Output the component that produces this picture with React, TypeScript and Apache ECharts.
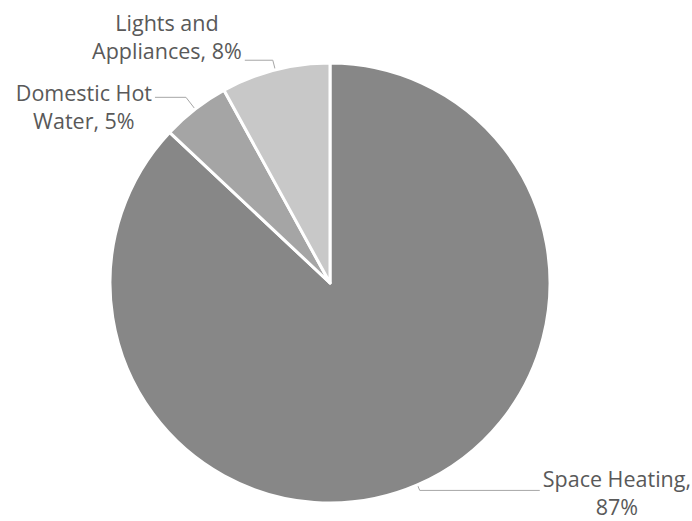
import React, { useEffect, useRef } from "react";
import * as echarts from "echarts";

const categories = ["Space Heating", "Domestic Hot Water", "Lights and Appliances"];
const values = [87, 5, 8];
const colors = ["#878787", "#a5a5a5", "#c8c8c8"];

// label styling per slice (leader-line lengths and vertical offsets)
const lineLen = [6, 15, 10];
const lineLen2 = [120, 31, 28];
const labelDy = [2, 9, -24];

export default function App() {
  const ref = useRef<HTMLDivElement>(null);
  useEffect(() => {
    if (!ref.current) return;
    const chart = echarts.init(ref.current, undefined, { renderer: "svg" });
    chart.setOption({
      animation: false,
      backgroundColor: "#ffffff",
      series: [
        {
          type: "pie",
          center: [330, 283],
          radius: 220,
          startAngle: 90,
          clockwise: true,
          avoidLabelOverlap: false,
          itemStyle: { borderColor: "#ffffff", borderWidth: 3 },
          label: {
            show: true,
            position: "outside",
            alignTo: "none",
            distanceToLabelLine: 3,
            fontFamily: "Open Sans",
            fontSize: 21.5,
            lineHeight: 28,
            color: "#595959",
            formatter: (p: any) => {
              const words = `${p.name}, ${p.value}%`.split(" ");
              return `{c|${words.slice(0, 2).join(" ")}}\n{c|${words.slice(2).join(" ")}}`;
            },
            rich: {
              c: {
                align: "center",
                fontFamily: "Open Sans",
                fontSize: 21.5,
                lineHeight: 28,
                color: "#595959",
              },
            },
          },
          labelLine: {
            show: true,
            lineStyle: { color: "#a6a6a6", width: 1 },
          },
          labelLayout: (params: any) => ({ dy: labelDy[params.dataIndex] }),
          data: categories.map((name, i) => ({
            name,
            value: values[i],
            itemStyle: { color: colors[i] },
            labelLine: { length: lineLen[i], length2: lineLen2[i] },
          })),
        },
      ],
    });
    return () => chart.dispose();
  }, []);
  return (
    <div
      ref={ref}
      style={{ position: "absolute", left: 0, top: 0, width: 692, height: 521 }}
    />
  );
}
